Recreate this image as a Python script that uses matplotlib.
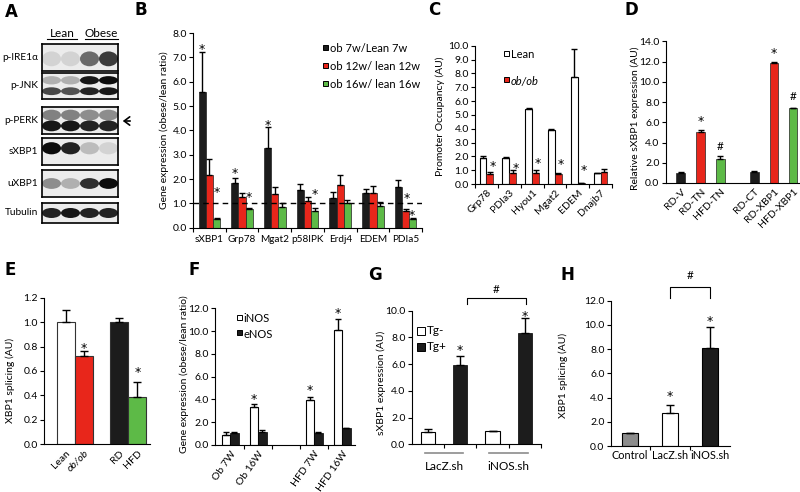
import matplotlib
matplotlib.use('Agg')
import matplotlib.pyplot as plt
import numpy as np
from matplotlib.patches import Rectangle, Ellipse, FancyArrowPatch
from matplotlib.lines import Line2D

plt.rcParams['font.family'] = ['Lato', 'DejaVu Sans']
plt.rcParams['font.size'] = 7
plt.rcParams['axes.linewidth'] = 0.8

RED = '#e8261b'
GREEN = '#5dba47'
BLACK = '#1c1c1c'
GRAY = '#8c8c8c'

# ---- A: western blots (band darkness per lane: lean, lean, obese, obese)
blot_labels = ['p-IRE1α', 'p-JNK', 'p-PERK', 'sXBP1', 'uXBP1', 'Tubulin']
blot_bands = [
    [[0.10, 0.10, 0.55, 0.75]],
    [[0.25, 0.25, 0.90, 0.95], [0.70, 0.65, 0.85, 0.90]],
    [[0.45, 0.45, 0.40, 0.40], [0.90, 0.90, 0.85, 0.85]],
    [[0.95, 0.85, 0.20, 0.10]],
    [[0.40, 0.25, 0.80, 0.95]],
    [[0.85, 0.90, 0.85, 0.85]],
]

# ---- B
b_genes = ['sXBP1', 'Grp78', 'Mgat2', 'p58IPK', 'Erdj4', 'EDEM', 'PDIa5']
b_7w = [5.57, 1.82, 3.29, 1.55, 1.23, 1.41, 1.69]
b_7w_err = [1.63, 0.24, 0.83, 0.23, 0.22, 0.18, 0.27]
b_12w = [2.17, 1.28, 1.39, 1.10, 1.76, 1.41, 0.70]
b_12w_err = [0.64, 0.13, 0.30, 0.18, 0.41, 0.29, 0.07]
b_16w = [0.34, 0.75, 0.86, 0.69, 1.03, 0.89, 0.35]
b_16w_err = [0.04, 0.05, 0.14, 0.11, 0.11, 0.17, 0.05]
b_legend = ['ob 7w/Lean 7w', 'ob 12w/ lean 12w', 'ob 16w/ lean 16w']

# ---- C
c_genes = ['Grp78', 'PDIa3', 'Hyou1', 'Mgat2', 'EDEM', 'Dnajb7']
c_lean = [1.88, 1.88, 5.41, 3.90, 7.71, 0.77]
c_lean_err = [0.16, 0.04, 0.05, 0.05, 2.05, 0.0]
c_ob = [0.72, 0.79, 0.77, 0.70, 0.05, 0.89]
c_ob_err = [0.12, 0.20, 0.24, 0.12, 0.0, 0.17]

# ---- D
d_groups = ['RD-V', 'RD-TN', 'HFD-TN', 'RD-CT', 'RD-XBP1', 'HFD-XBP1']
d_vals = [1.02, 5.00, 2.37, 1.09, 11.89, 7.38]
d_err = [0.07, 0.24, 0.30, 0.10, 0.07, 0.03]
d_marks = ['', '*', '#', '', '*', '#']

# ---- E
e_groups = ['Lean', 'ob/ob', 'RD', 'HFD']
e_vals = [1.0, 0.72, 1.0, 0.39]
e_err = [0.10, 0.04, 0.03, 0.12]

# ---- F
f_groups = ['Ob 7W', 'Ob 16W', 'HFD 7W', 'HFD 16W']
f_inos = [0.88, 3.37, 3.95, 10.1]
f_inos_err = [0.29, 0.23, 0.23, 0.96]
f_enos = [1.02, 1.17, 1.02, 1.46]
f_enos_err = [0.15, 0.15, 0.15, 0.06]

# ---- G
g_groups = ['LacZ.sh', 'iNOS.sh']
g_tgneg = [0.95, 1.0]
g_tgneg_err = [0.17, 0.02]
g_tgpos = [5.94, 8.35]
g_tgpos_err = [0.67, 1.08]

# ---- H
h_groups = ['Control', 'LacZ.sh', 'iNOS.sh']
h_vals = [1.05, 2.70, 8.12]
h_err = [0.0, 0.71, 1.73]

W, H = 800, 492
fig = plt.figure(figsize=(8, 4.92), dpi=100)


def rect(x0, y0, x1, y1):
    return [x0 / W, 1 - y1 / H, (x1 - x0) / W, (y1 - y0) / H]


def ftext(x, y, s, **kw):
    fig.text(x / W, 1 - y / H, s, **kw)


def fsquare(x, y, size, color):
    fig.add_artist(Rectangle((x / W, 1 - (y + size) / H), size / W, size / H,
                             facecolor=color, edgecolor='black', lw=0.7,
                             transform=fig.transFigure))


def panel(ax, ylim, step, bounds):
    ax.spines[['top', 'right']].set_visible(False)
    ax.set_ylim(*ylim)
    ticks = np.arange(0, ylim[1] + step / 2, step)
    ax.set_yticks(ticks)
    ax.set_yticklabels(['%.1f' % t for t in ticks])
    ax.tick_params(axis='y', length=3, width=0.8, pad=1.5, labelsize=7.5)
    ax.set_xticks(bounds, minor=True)
    ax.tick_params(axis='x', which='minor', length=3, width=0.8, direction='out')
    ax.tick_params(axis='x', which='major', length=0, pad=3, labelsize=7.5)


def mark(ax, x, y, s):
    if s == '*':
        ax.annotate(s, (x, y), xytext=(0, -2.5), textcoords='offset points',
                    ha='center', va='center', fontsize=9, family=['DejaVu Sans'],
                    annotation_clip=False)
    else:
        ax.annotate(s, (x, y), ha='center', va='center', fontsize=8.5,
                    annotation_clip=False)


def ylab(x, y, s):
    ftext(x, y, s, rotation=90, ha='center', va='center', fontsize=7.5)


# ---------------- A
blot_px = [(42, 44, 118, 71), (42, 73, 118, 99), (42, 107, 118, 134),
           (42, 138, 118, 165), (42, 170, 118, 197), (42, 203, 118, 223)]
band_pos = [[(0.45, 0.55)], [(0.72, 0.32), (0.30, 0.30)], [(0.70, 0.40), (0.30, 0.40)],
            [(0.62, 0.45)], [(0.50, 0.40)], [(0.50, 0.50)]]
for name, bands, px, pos in zip(blot_labels, blot_bands, blot_px, band_pos):
    ax = fig.add_axes(rect(*px))
    ax.set_xlim(0, 4)
    ax.set_ylim(0, 1)
    ax.set_xticks([])
    ax.set_yticks([])
    ax.set_facecolor('#ececec')
    for spine in ax.spines.values():
        spine.set_linewidth(1.2)
    for lanes, (yc, h) in zip(bands, pos):
        for i, v in enumerate(lanes):
            ax.add_patch(Ellipse((i + 0.5, yc), 1.0, h, color='black', alpha=v, lw=0))
    ftext(38, (px[1] + px[3]) / 2, name, ha='right', va='center', fontsize=7.3)
ftext(62, 33, 'Lean', ha='center', va='center', fontsize=8.5)
ftext(101, 33, 'Obese', ha='center', va='center', fontsize=8.5)
fig.add_artist(Line2D([47 / W, 77 / W], [1 - 39 / H] * 2, color='black', lw=0.8))
fig.add_artist(Line2D([85 / W, 118 / W], [1 - 39 / H] * 2, color='black', lw=0.8))
fig.add_artist(FancyArrowPatch((133 / W, 1 - 121 / H), (120 / W, 1 - 121 / H),
                               arrowstyle='->,head_width=3,head_length=4', lw=1.2,
                               color='black', transform=fig.transFigure))

# ---------------- B
ax = fig.add_axes(rect(193, 33, 422, 227.7))
x = np.arange(len(b_genes))
bw = 0.22
for off, vals, err, col in [(-bw, b_7w, b_7w_err, BLACK), (0, b_12w, b_12w_err, RED),
                            (bw, b_16w, b_16w_err, GREEN)]:
    ax.bar(x + off, vals, bw, color=col, edgecolor='#222222', lw=0.5,
           yerr=[np.zeros(len(err)), err], capsize=2.5,
           error_kw=dict(elinewidth=1, capthick=1, ecolor='black'))
ax.axhline(1.0, color='black', lw=1, ls=(0, (4, 3)))
ax.set_xlim(-0.5, 6.5)
panel(ax, (0, 8), 1, np.arange(-0.5, 7, 1))
ax.set_xticks(x)
ax.set_xticklabels(b_genes, fontsize=7.2)
ax.tick_params(axis='x', which='major', pad=5)
for xi, yi in [(-bw, 7.45), (bw, 1.58), (1 - bw, 2.35), (1 + bw, 1.39), (2 - bw, 4.33),
               (3 + bw, 1.52), (6 + 0.02, 1.36), (6 + 0.2, 0.63)]:
    mark(ax, xi, yi, '*')
for i, (lab, col) in enumerate(zip(b_legend, [BLACK, RED, GREEN])):
    fsquare(323, 45 + 18 * i, 5, col)
    ftext(330, 48 + 18 * i, lab, ha='left', va='center', fontsize=8)
ylab(164, 130, 'Gene expression (obese/lean ratio)')

# ---------------- C
ax = fig.add_axes(rect(475, 45.7, 612, 184))
x = np.arange(len(c_genes))
cw = 0.3
ax.bar(x - cw / 2, c_lean, cw, color='white', edgecolor='black', lw=0.8,
       yerr=[np.zeros(6), c_lean_err], capsize=2.5,
       error_kw=dict(elinewidth=1, capthick=1))
ax.bar(x + cw / 2, c_ob, cw, color=RED, edgecolor='#222222', lw=0.5,
       yerr=[np.zeros(6), c_ob_err], capsize=2.5,
       error_kw=dict(elinewidth=1, capthick=1))
ax.set_xlim(-0.5, 5.5)
panel(ax, (0, 10), 1, np.arange(-0.5, 6, 1))
ax.set_xticks(x)
ax.set_xticklabels(c_genes, rotation=45, ha='right', rotation_mode='anchor', fontsize=7.5)
for xi, yi in [(0, 1.5), (1, 1.35), (2, 1.74), (3, 1.69), (4, 1.25)]:
    mark(ax, xi + cw / 2 + 0.12, yi, '*')
fsquare(504, 51, 5, 'white')
ftext(511, 55, 'Lean', ha='left', va='center', fontsize=8)
fsquare(504, 77, 5, RED)
ftext(511, 81, 'ob/ob', ha='left', va='center', fontsize=8, style='italic')
ylab(440, 116, 'Promoter Occupancy (AU)')

# ---------------- D
ax = fig.add_axes(rect(665.7, 41.3, 800, 183))
dx = np.array([0, 1, 2, 3.7, 4.7, 5.65])
ax.bar(dx, d_vals, 0.43, color=[BLACK, RED, GREEN, BLACK, RED, GREEN],
       edgecolor='#222222', lw=0.5, yerr=[np.zeros(6), d_err], capsize=2.5,
       error_kw=dict(elinewidth=1, capthick=1))
ax.set_xlim(-0.75, 6.0)
panel(ax, (0, 14), 2, [])
ax.set_xticks(dx)
ax.set_xticklabels(d_groups, rotation=45, ha='right', rotation_mode='anchor', fontsize=7.5)
for xi, s, yi in zip(dx, d_marks, [0, 6.4, 3.6, 0, 13.1, 8.5]):
    if s:
        mark(ax, xi, yi, s)
ylab(635, 118, 'Relative sXBP1 expression (AU)')

# ---------------- E
ax = fig.add_axes(rect(44, 297.7, 150, 444.3))
ex = np.array([0, 1, 3, 4])
ax.bar(ex, e_vals, 1.0, color=['white', RED, BLACK, GREEN], edgecolor='#333333', lw=0.8,
       yerr=[np.zeros(4), e_err], capsize=3, error_kw=dict(elinewidth=1, capthick=1))
ax.set_xlim(-1.2, 4.7)
panel(ax, (0, 1.2), 0.2, [])
ax.set_xticks(ex)
ax.set_xticklabels(e_groups, rotation=45, ha='right', rotation_mode='anchor', fontsize=7.5)
ax.get_xticklabels()[1].set_style('italic')
mark(ax, 1, 0.81, '*')
mark(ax, 4, 0.62, '*')
ylab(10, 380, 'XBP1 splicing (AU)')

# ---------------- F
ax = fig.add_axes(rect(215, 308.3, 355, 445))
fx = np.array([0, 1, 3, 4])
fw = 0.3
ax.bar(fx - fw / 2, f_inos, fw, color='white', edgecolor='black', lw=0.8,
       yerr=[np.zeros(4), f_inos_err], capsize=2.5, error_kw=dict(elinewidth=1, capthick=1))
ax.bar(fx + fw / 2, f_enos, fw, color=BLACK, edgecolor='black', lw=0.5,
       yerr=[np.zeros(4), f_enos_err], capsize=2.5, error_kw=dict(elinewidth=1, capthick=1))
ax.set_xlim(-0.54, 4.46)
panel(ax, (0, 12), 2, [0.5, 1.5, 2.5, 3.5])
ax.set_xticks(fx)
ax.set_xticklabels(f_groups, rotation=55, ha='right', rotation_mode='anchor', fontsize=7.5)
for xi, yi in [(1, 4.3), (3, 5.12), (4, 11.85)]:
    mark(ax, xi - fw / 2, yi, '*')
fsquare(237, 315, 5, 'white')
ftext(243, 319, 'iNOS', ha='left', va='center', fontsize=8)
fsquare(237, 330, 5, BLACK)
ftext(243, 334, 'eNOS', ha='left', va='center', fontsize=8)
ylab(184, 374, 'Gene expression (obese/lean ratio)')

# ---------------- G
ax = fig.add_axes(rect(411.7, 310.7, 541, 444.3))
gx = np.arange(len(g_groups)) * 2
gw = 0.44
ax.bar(gx, g_tgneg, gw, color='white', edgecolor='black', lw=0.8,
       yerr=[np.zeros(2), g_tgneg_err], capsize=3, error_kw=dict(elinewidth=1, capthick=1))
ax.bar(gx + 1, g_tgpos, gw, color=BLACK, edgecolor='black', lw=0.5,
       yerr=[np.zeros(2), g_tgpos_err], capsize=3, error_kw=dict(elinewidth=1, capthick=1))
ax.set_xlim(-0.5, 3.5)
panel(ax, (0, 10), 2, [0.5, 1.5, 2.5, 3.5])
ax.set_xticks([])
for xi, yi in zip(gx + 1, [7.31, 9.85]):
    mark(ax, xi, yi, '*')
for g, lab in zip(gx, g_groups):
    ax.plot([g - 0.1, g + 1.1], [-0.63, -0.63], color=GRAY, lw=1.2, clip_on=False)
    ax.text(g + 0.5, -1.65, lab, ha='center', va='center', fontsize=8.5)
ax.plot([1.2, 1.2, 3.05, 3.05], [10.5, 10.93, 10.93, 10.5], color='black', lw=0.8, clip_on=False)
mark(ax, 2.1, 11.6, '#')
fsquare(417, 327, 8, 'white')
ftext(427, 331, 'Tg-', ha='left', va='center', fontsize=8.5)
fsquare(417, 343, 8, BLACK)
ftext(427, 347, 'Tg+', ha='left', va='center', fontsize=8.5)
ylab(381, 383, 'sXBP1 expression (AU)')

# ---------------- H
ax = fig.add_axes(rect(610.7, 300.7, 730, 446))
hx = np.arange(len(h_groups))
ax.bar(hx, h_vals, 0.42, color=[GRAY, 'white', BLACK], edgecolor='black', lw=0.8,
       yerr=[np.zeros(3), h_err], capsize=3, error_kw=dict(elinewidth=1, capthick=1))
ax.set_xlim(-0.48, 2.5)
panel(ax, (0, 12), 2, [0.5, 1.5])
ax.set_xticks(hx)
ax.set_xticklabels(h_groups, fontsize=7.8)
mark(ax, 1, 4.4, '*')
mark(ax, 2, 10.54, '*')
ax.plot([1, 1, 2, 2], [12.25, 13.1, 13.1, 12.25], color='black', lw=0.8, clip_on=False)
mark(ax, 1.5, 14.1, '#')
ylab(563, 375, 'XBP1 splicing (AU)')

# panel letters
for lab, px, py in [('A', 5, 12), ('B', 135, 10), ('C', 428, 10), ('D', 624, 10),
                    ('E', 5, 270), ('F', 188, 270), ('G', 368, 275), ('H', 560, 275)]:
    ftext(px, py, lab, ha='left', va='center', fontsize=12, fontweight='bold',
          family=['Liberation Sans Narrow', 'DejaVu Sans'])

fig.savefig('out.png', dpi=100)
